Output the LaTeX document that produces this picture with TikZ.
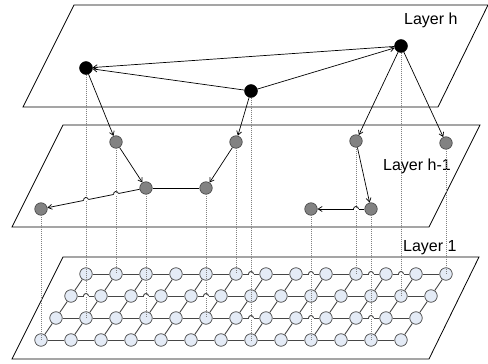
\documentclass[tikz,border=0pt]{standalone}
\usepackage{fontspec}
\setmainfont{Liberation Sans}
\usepackage{tikz}
\usetikzlibrary{arrows.meta,calc,backgrounds}
\usepackage{xcolor}
\definecolor{cellfill}{RGB}{228,235,246}
\definecolor{cellline}{RGB}{70,70,70}
\definecolor{midfill}{RGB}{130,130,130}
\tikzset{
  plane/.style={draw=black, line width=0.8pt},
  topnode/.style={circle, fill=black, draw=black, minimum size=13pt, inner sep=0pt},
  midnode/.style={circle, fill=midfill, draw=black!75, line width=0.6pt, minimum size=12.5pt, inner sep=0pt},
  cell/.style={circle, fill=cellfill, draw=cellline, line width=0.7pt, minimum size=12.5pt, inner sep=0pt},
  link/.style={draw=cellline, line width=0.9pt},
  arrow/.style={-{Straight Barb[length=4pt,width=5pt]}, line width=0.7pt},
  plainline/.style={line width=0.7pt},
  proj/.style={draw=black!50, line width=0.6pt, dash pattern=on 1pt off 1pt},
  layerlabel/.style={font=\fontsize{16}{18}\selectfont, inner sep=0pt, anchor=base west}
}
\newcommand{\hump}[3][0]{%
  \begin{scope}[shift={#2}, rotate=#1]
    \fill[white] (-2.5,-0.9) rectangle (2.5,0.9);
    \draw[#3] (-2.5,0) arc[start angle=180, end angle=360, radius=2.5];
  \end{scope}}

\begin{document}
\begin{tikzpicture}[x=1pt, y=-1pt]
\useasboundingbox (0,0) rectangle (488,364);
\draw[plane] (74,5) -- (488,5) -- (438,107) -- (23,107) -- cycle;
\draw[plane] (63,125) -- (480,125) -- (429,227) -- (12,227) -- cycle;
\draw[plane] (63,257) -- (479,257) -- (429,359) -- (12,359) -- cycle;
\node[layerlabel] (lblh) at (404,24) {Layer h};
\node[layerlabel] (lblhm) at (383,170) {Layer h-1};
\node[layerlabel] (lblone) at (403,251) {Layer 1};

\node[topnode] (h1) at (86,68) {};
\node[topnode] (h2) at (251,91) {};
\node[topnode] (h3) at (401,46) {};

\node[midnode] (m1) at (116,142) {};
\node[midnode] (m2) at (236,142) {};
\node[midnode] (m3) at (356,141) {};
\node[midnode] (m4) at (446,143) {};
\node[midnode] (m5) at (146,188) {};
\node[midnode] (m6) at (206,188) {};
\node[midnode] (m7) at (41,209) {};
\node[midnode] (m8) at (311,209) {};
\node[midnode] (m9) at (371,209) {};

\foreach \r in {1,...,4}
  \foreach \k in {0,...,12}
    \node[cell] (n-\r-\k) at ({86-15*(\r-1)+30*\k},{274+22*(\r-1)}) {};
\begin{pgfonlayer}{background}
\foreach \r in {1,...,4}
  \foreach \k in {1,...,12} {
    \pgfmathtruncatemacro{\kp}{\k-1}
    \draw[link] (n-\r-\kp) -- (n-\r-\k);
  }
\foreach \r in {2,3,4}
  \foreach \k in {0,...,12} {
    \pgfmathtruncatemacro{\rp}{\r-1}
    \draw[link] (n-\r-\k) -- (n-\rp-\k);
  }
\end{pgfonlayer}

\draw[arrow] (h3) -- (h1);
\draw[arrow] (h2) -- (h1);
\draw[arrow] (h2) -- (h3);
\draw[arrow] (h1) -- (m1);
\draw[arrow] (h2) -- (m2);
\draw[arrow] (h3) -- (m3);
\draw[arrow] (h3) -- (m4);
\draw[arrow] (m1) -- (m5);
\draw[arrow] (m2) -- (m6);
\draw[plainline] (m5) -- (m6);
\draw[arrow] (m5) -- (m7);
\draw[arrow] (m3) -- (m9);
\draw[arrow] (m9) -- (m8);

\draw[proj] (h1.south) -- (n-3-1.center);
\draw[proj] (m1.center) -- (n-1-1.center);
\draw[proj] (m5.center) -- (n-3-3.center);
\draw[proj] (m6.center) -- (n-3-5.center);
\draw[proj] (m2.center) -- (n-1-5.center);
\draw[proj] (h2.south) -- (n-4-7.center);
\draw[proj] (m8.center) -- (n-4-9.center);
\draw[proj] (m3.center) -- (n-1-9.center);
\draw[proj] (m9.center) -- (n-4-11.center);
\draw[proj] (h3.south) -- (n-2-11.center);
\draw[proj] (m4.center) -- (n-1-12.center);
\draw[proj] (m7.center) -- (n-4-0.center);

\hump[11.3]{($(m7)!0.4286!(m5)$)}{plainline}
\hump[11.3]{($(m7)!0.7143!(m5)$)}{plainline}
\hump{(356,209)}{plainline}
\foreach \x in {251,311,371,401} \hump{(\x,274)}{link};
\foreach \x in {86,146,206} \hump{(\x,296)}{link};
\foreach \x in {251,311,371} \hump{(\x,318)}{link};
\end{tikzpicture}
\end{document}
